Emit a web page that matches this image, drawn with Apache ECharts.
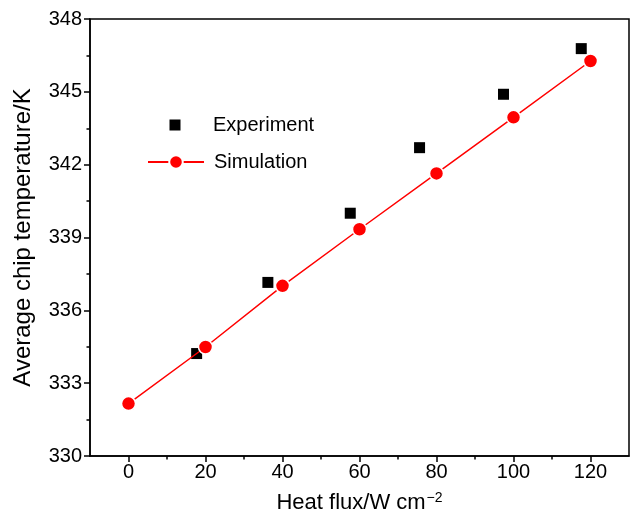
<!DOCTYPE html>
<html>
<head>
<meta charset="utf-8">
<script src="https://cdn.jsdelivr.net/npm/echarts@6/dist/echarts.min.js"></script>
<style>
  html, body { margin: 0; padding: 0; background: #fff; }
  #chart { width: 633px; height: 513px; }
</style>
</head>
<body>
<div id="chart"></div>
<script>
// experiment: heat flux (W cm-2) vs average chip temperature (K)
const expFlux = [0, 17.7, 36.2, 57.6, 75.6, 97.4, 117.6]
const expTemp = [332.16, 334.22, 337.15, 340.0, 342.7, 344.9, 346.78]

// simulation
const simFlux = [0, 20, 40, 60, 80, 100, 120]
const simTemp = [332.16, 334.49, 337.01, 339.34, 341.64, 343.95, 346.27]

// x axis ticks (major labelled, minor in between)
const xMajor = [0, 20, 40, 60, 80, 100, 120]
const xMinor = [10, 30, 50, 70, 90, 110]

const seriesNames = ['Experiment', 'Simulation']
const xLabel = 'Heat flux/W cm{sup|\u22122}'
const yLabel = 'Average chip temperature/K'

const font = '"Liberation Sans", Arial, Helvetica, sans-serif'
const chart = echarts.init(document.getElementById('chart'))

const axisLine = { show: true, onZero: false, lineStyle: { color: '#000', width: 1.5 } }
const tickStyle = { color: '#000', width: 1.5 }
const labelStyle = { color: '#000', fontSize: 20, fontFamily: font }

chart.setOption({
  animation: false,
  backgroundColor: '#fff',
  grid: {
    left: 90, right: 4, top: 19, bottom: 57,
    outerBoundsMode: 'none',
    show: true, borderColor: '#000', borderWidth: 1.5, backgroundColor: 'transparent'
  },
  xAxis: [
    {
      type: 'value', min: -10, max: 130,
      axisLine,
      axisTick: { show: true, length: 6, customValues: xMajor, lineStyle: tickStyle },
      axisLabel: Object.assign({}, labelStyle, { margin: 6, customValues: xMajor }),
      splitLine: { show: false },
      name: xLabel,
      nameLocation: 'middle',
      nameGap: 35,
      nameTextStyle: {
        color: '#000', fontSize: 22, fontFamily: font,
        rich: { sup: { fontSize: 14, verticalAlign: 'top', padding: [0, 0, 10, 1], fontFamily: font, color: '#000' } }
      }
    },
    {
      // minor ticks only
      type: 'value', min: -10, max: 130, position: 'bottom',
      axisLine: { show: false },
      axisTick: { show: true, length: 3.5, customValues: xMinor, lineStyle: tickStyle },
      axisLabel: { show: false },
      splitLine: { show: false }
    }
  ],
  yAxis: {
    type: 'value', min: 330, max: 348, interval: 3,
    axisLine,
    axisTick: { show: true, length: 6, lineStyle: tickStyle },
    minorTick: { show: true, splitNumber: 2, length: 3.5, lineStyle: tickStyle },
    axisLabel: Object.assign({}, labelStyle, { margin: 8 }),
    splitLine: { show: false },
    name: yLabel,
    nameLocation: 'middle',
    nameGap: 55,
    nameTextStyle: { color: '#000', fontSize: 24, fontFamily: font }
  },
  legend: [
    {
      left: 169.5, top: 115, padding: 0,
      itemWidth: 11, itemHeight: 11,
      textStyle: { color: '#000', fontSize: 20, fontFamily: font, padding: [0, 0, 0, 27.5] },
      data: [seriesNames[0]]
    },
    {
      left: 147, top: 152, padding: 0,
      itemWidth: 56, itemHeight: 17,
      textStyle: { color: '#000', fontSize: 20, fontFamily: font, padding: [0, 0, 0, 5] },
      data: [seriesNames[1]]
    }
  ],
  series: [
    {
      name: seriesNames[0],
      type: 'scatter',
      symbol: 'rect',
      symbolSize: 11,
      itemStyle: { color: '#000', opacity: 1 },
      z: 2,
      data: expFlux.map((x, i) => [x, expTemp[i]])
    },
    {
      name: seriesNames[1],
      type: 'line',
      symbol: 'circle',
      symbolSize: 14,
      showAllSymbol: true,
      lineStyle: { color: '#ff0000', width: 1.5 },
      itemStyle: { color: '#ff0000', borderColor: '#fff', borderWidth: 1.5 },
      z: 3,
      data: simFlux.map((x, i) => [x, simTemp[i]])
    }
  ]
})
</script>
</body>
</html>
